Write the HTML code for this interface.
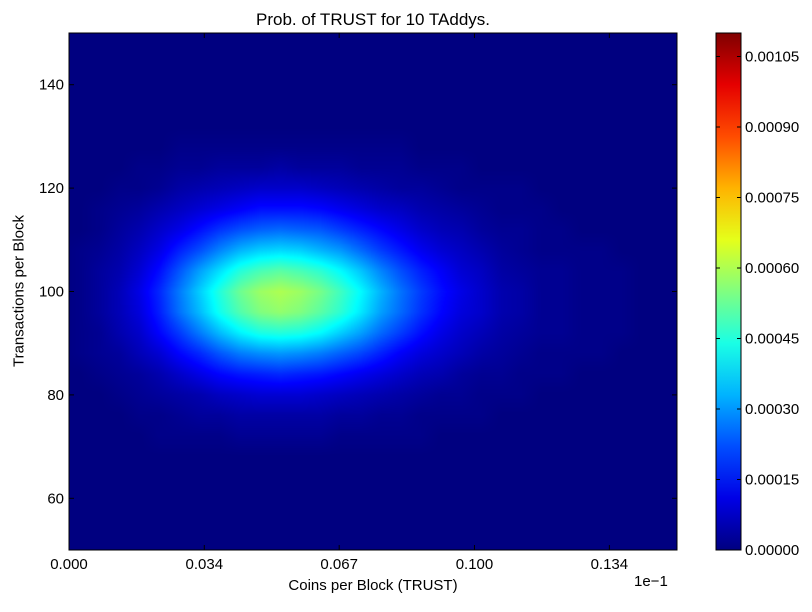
<!DOCTYPE html>
<html><head><meta charset="utf-8"><style>
body{margin:0;background:#fff;width:812px;height:612px;overflow:hidden;font-family:"Liberation Sans",sans-serif;}
#root{position:relative;width:812px;height:612px;}
.t{position:absolute;font-size:15px;color:#000;white-space:nowrap;}
</style></head><body>
<div id="root">
<div class="t" style="left:0;width:746px;text-align:center;top:10px;font-size:17px;">Prob. of TRUST for 10 TAddys.</div>
<canvas id="hm" width="608" height="517" style="position:absolute;left:69px;top:33px;"></canvas>
<svg id="ov" width="812" height="612" style="position:absolute;left:0;top:0;"></svg>
<div class="t" style="left:69px;width:608px;text-align:center;top:577px;">Coins per Block (TRUST)</div>
<div class="t" style="left:634px;top:573px;">1e−1</div>
<div class="t" style="left:19px;top:291px;transform:translate(-50%,-50%) rotate(-90deg);">Transactions per Block</div>
</div>
<script>
const xTicks=[0,0.0336,0.0671,0.1007,0.1342];
const xTickLabels=["0.000","0.034","0.067","0.100","0.134"];
const yTicks=[60,80,100,120,140];
const cbTicks=[0,0.00015,0.0003,0.00045,0.0006,0.00075,0.0009,0.00105];
const cbLabels=["0.00000","0.00015","0.00030","0.00045","0.00060","0.00075","0.00090","0.00105"];
const rowYCenters=[128,124,120,116,112,108,104,100,96,92,88,84,80,76,72];
const colStep=0.005;
const r128=[0,0,0,0,0,1,1,1,1,1,1,1,1,1,1,1,1,0,0,0,0,0,0,0,0,0,0,0,0,0];
const r124=[0,0,0,1,1,2,2,3,3,3,4,3,3,3,2,2,2,1,1,1,0,0,0,0,0,0,0,0,0,0];
const r120=[0,0,1,1,2,4,5,6,7,8,8,8,7,6,5,4,3,3,2,1,1,1,1,0,0,0,0,0,0,0];
const r116=[0,1,2,3,5,7,9,11,13,15,15,15,14,12,10,8,7,5,4,3,2,1,1,1,0,0,0,0,0,0];
const r112=[0,1,3,5,8,11,15,19,22,24,25,24,23,20,17,14,11,8,6,5,3,2,2,1,1,0,0,0,0,0];
const r108=[1,2,4,7,11,17,22,28,33,36,37,36,33,30,25,20,16,12,9,7,5,3,2,1,1,1,1,0,0,0];
const r104=[1,3,5,9,15,23,31,38,45,49,51,49,46,41,35,28,22,17,13,9,7,4,3,2,2,1,1,1,0,0];
const r100=[1,3,6,11,18,27,36,45,53,58,60,58,54,48,41,33,26,20,15,11,8,5,4,2,2,1,1,1,0,0];
const r96=[1,3,6,10,17,26,34,43,50,55,57,55,51,46,39,31,25,19,14,10,8,5,4,2,2,1,1,1,0,0];
const r92=[1,2,5,8,14,20,27,34,40,44,45,44,41,36,31,25,20,15,11,8,6,4,3,2,2,1,1,1,0,0];
const r88=[1,2,3,6,9,14,18,23,27,29,30,29,27,24,21,17,13,10,8,6,4,3,2,1,1,1,1,0,0,0];
const r84=[0,1,2,3,5,8,11,14,16,17,18,17,16,14,12,10,8,6,5,3,2,2,1,1,1,0,0,0,0,0];
const r80=[0,0,1,2,3,4,5,7,8,9,9,9,8,7,6,5,4,3,2,2,1,1,1,0,0,0,0,0,0,0];
const r76=[0,0,0,1,1,2,3,3,4,4,4,4,4,3,3,2,2,1,1,1,1,0,0,0,0,0,0,0,0,0];
const r72=[0,0,0,0,1,1,1,1,2,2,2,2,2,1,1,1,1,1,0,0,0,0,0,0,0,0,0,0,0,0];
const grid=[r128,r124,r120,r116,r112,r108,r104,r100,r96,r92,r88,r84,r80,r76,r72]; // units 1e-5
const xMin=0,xMax=0.151,yMin=50,yMax=150,vMax=0.0011;
const PX=69,PY=33,PW=608,PH=517;
const sx=v=>PX+(v-xMin)/(xMax-xMin)*PW;
const sy=v=>PY+PH-(v-yMin)/(yMax-yMin)*PH;
const CBX=716,CBW=25;
const cy=v=>PY+PH-v/vMax*PH;
function jet(t){t=Math.max(0,Math.min(1,t));const c=x=>Math.round(255*Math.max(0,Math.min(1,x)));
return [c(1.5-Math.abs(4*t-3)),c(1.5-Math.abs(4*t-2)),c(1.5-Math.abs(4*t-1))];}
function cell(r,c){if(r<0||r>=grid.length||c<0||c>=grid[0].length)return 0;return grid[r][c]*1e-5;}
const ctx=document.getElementById('hm').getContext('2d');
const img=ctx.createImageData(PW,PH);
const rowStep=rowYCenters[0]-rowYCenters[1];
for(let py=0;py<PH;py++){
 const yv=yMax-(py+0.5)/PH*(yMax-yMin);
 const fy=(rowYCenters[0]-yv)/rowStep;
 const r0=Math.floor(fy),ty=fy-r0;
 for(let px=0;px<PW;px++){
  const xv=xMin+(px+0.5)/PW*(xMax-xMin);
  const fx=xv/colStep-0.5;const c0=Math.floor(fx),tx=fx-c0;
  const v=(cell(r0,c0)*(1-tx)+cell(r0,c0+1)*tx)*(1-ty)+(cell(r0+1,c0)*(1-tx)+cell(r0+1,c0+1)*tx)*ty;
  const col=jet(v/vMax);const i=(py*PW+px)*4;
  img.data[i]=col[0];img.data[i+1]=col[1];img.data[i+2]=col[2];img.data[i+3]=255;
 }
}
ctx.putImageData(img,0,0);
const svg=document.getElementById('ov');const NS='http://www.w3.org/2000/svg';
function mk(tag,at,parent){const e=document.createElementNS(NS,tag);for(const k in at)e.setAttribute(k,at[k]);(parent||svg).appendChild(e);return e;}
const defs=mk('defs',{});
const lg=mk('linearGradient',{id:'cbg',x1:0,y1:1,x2:0,y2:0},defs);
for(let k=0;k<=10;k++){const c=jet(k/10);mk('stop',{offset:k/10,'stop-color':`rgb(${c})`},lg);}
const cb=mk('rect',{x:CBX,y:PY,width:CBW,height:PH,fill:'url(#cbg)',stroke:'#000'});


const fr=mk('rect',{x:PX,y:PY,width:PW,height:PH,fill:'none',stroke:'#000'});


xTicks.forEach((v,i)=>{const x=sx(v);
 mk('line',{x1:x,x2:x,y1:PY+PH,y2:PY+PH-5,stroke:'#000'});mk('line',{x1:x,x2:x,y1:PY,y2:PY+5,stroke:'#000'});
 const t=mk('text',{x:x,y:569,'text-anchor':'middle','font-size':15,'font-family':'Liberation Sans'});t.textContent=xTickLabels[i];
 
 });
yTicks.forEach(v=>{const y=sy(v);
 mk('line',{x1:PX,x2:PX+5,y1:y,y2:y,stroke:'#000'});mk('line',{x1:PX+PW,x2:PX+PW-5,y1:y,y2:y,stroke:'#000'});
 const t=mk('text',{x:64,y:y+5,'text-anchor':'end','font-size':15,'font-family':'Liberation Sans'});t.textContent=v;
 
 });
cbTicks.forEach((v,i)=>{const y=cy(v);
 mk('line',{x1:CBX,x2:CBX+4,y1:y,y2:y,stroke:'#000'});mk('line',{x1:CBX+CBW,x2:CBX+CBW-4,y1:y,y2:y,stroke:'#000'});
 const t=mk('text',{x:745,y:y+5,'font-size':15,'font-family':'Liberation Sans'});t.textContent=cbLabels[i];
 
 });
</script>
</body></html>
